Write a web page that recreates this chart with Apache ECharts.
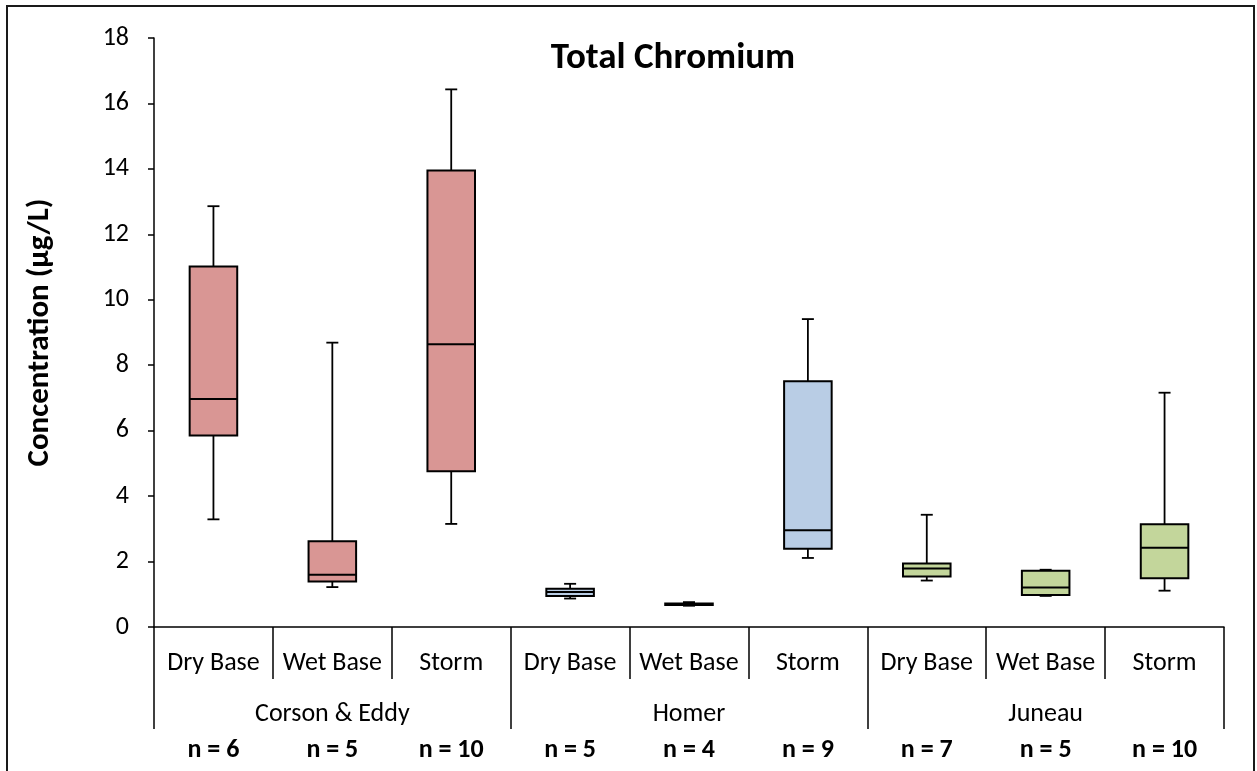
<!DOCTYPE html>
<html>
<head>
<meta charset="utf-8">
<script src="https://cdn.jsdelivr.net/npm/echarts@6/dist/echarts.min.js"></script>
<style>
html,body{margin:0;padding:0;background:#fff;}
#frame{position:absolute;left:6px;top:5px;width:1249px;height:775px;border:2px solid #1a1a1a;box-sizing:border-box;}
#chart{position:absolute;left:0;top:0;width:1257px;height:771px;}
</style>
</head>
<body>
<div id="frame"></div>
<div id="chart"></div>
<script>
var categories = ['Dry Base','Wet Base','Storm','Dry Base','Wet Base','Storm','Dry Base','Wet Base','Storm'];
var groups = ['Corson & Eddy','Homer','Juneau'];
var nLabels = ['n = 6','n = 5','n = 10','n = 5','n = 4','n = 9','n = 7','n = 5','n = 10'];
var groupColors = ['#D99694','#B9CDE5','#C3D69B'];
// [min, Q1, median, Q3, max]
var mins    = [3.29, 1.22, 3.15, 0.87, 0.65, 2.11, 1.42, 0.95, 1.11];
var q1s     = [5.85, 1.39, 4.76, 0.95, 0.67, 2.39, 1.54, 0.98, 1.49];
var medians = [6.97, 1.60, 8.64, 1.07, 0.70, 2.96, 1.79, 1.21, 2.42];
var q3s     = [11.02, 2.62, 13.95, 1.17, 0.72, 7.51, 1.94, 1.72, 3.14];
var maxs    = [12.86, 8.69, 16.43, 1.32, 0.76, 9.41, 3.43, 1.75, 7.16];
var yTicks = [0,2,4,6,8,10,12,14,16,18];

var FONT = 'Carlito, Calibri, Lato, sans-serif';
var data = categories.map(function(c,i){ return [i, mins[i], q1s[i], medians[i], q3s[i], maxs[i]]; });

var chart = echarts.init(document.getElementById('chart'), null, {renderer:'canvas'});
chart.setOption({
  animation:false,
  backgroundColor:'transparent',
  title:{text:'Total Chromium', left:673, top:40, padding:0, textAlign:'center',
    textStyle:{fontFamily:FONT, fontSize:37, fontWeight:'bold', color:'#000'}},
  grid:{left:154, right:33, top:38, bottom:144, containLabel:false},
  xAxis:[
    {type:'category', data:categories, position:'bottom', offset:0,
     axisLine:{show:true, lineStyle:{color:'#000', width:1.5}},
     axisTick:{show:true, length:52, interval:0, lineStyle:{color:'#000', width:1.5}},
     axisLabel:{interval:0, margin:23, fontFamily:FONT, fontSize:26, color:'#000'},
     splitLine:{show:false}},
    {type:'category', data:groups, position:'bottom', offset:0, gridIndex:0,
     axisLine:{show:false},
     axisTick:{show:true, length:102, interval:0, lineStyle:{color:'#000', width:1.5}},
     axisLabel:{interval:0, margin:74, fontFamily:FONT, fontSize:26, color:'#000'},
     splitLine:{show:false}},
    {type:'category', data:nLabels, position:'bottom', offset:0, gridIndex:0,
     axisLine:{show:false}, axisTick:{show:false},
     axisLabel:{interval:0, margin:110, fontFamily:FONT, fontSize:26, fontWeight:'bold', color:'#000'},
     splitLine:{show:false}}
  ],
  yAxis:{type:'value', min:yTicks[0], max:yTicks[yTicks.length-1], interval:2,
    name:'Concentration (µg/L)', nameLocation:'middle', nameGap:98, nameRotate:90,
    nameTextStyle:{fontFamily:FONT, fontSize:31, fontWeight:'bold', color:'#000'},
    axisLine:{show:true, lineStyle:{color:'#000', width:1.5}},
    axisTick:{show:true, length:6, lineStyle:{color:'#000', width:1.5}},
    axisLabel:{margin:25, fontFamily:FONT, fontSize:26, color:'#000'},
    splitLine:{show:false}},
  series:[{
    type:'custom', xAxisIndex:0, yAxisIndex:0,
    data:data,
    encode:{x:0, y:[1,2,3,4,5]},
    renderItem:function(params, api){
      var i = api.value(0);
      var pMin = api.coord([i, api.value(1)]);
      var pQ1 = api.coord([i, api.value(2)]);
      var pMed = api.coord([i, api.value(3)]);
      var pQ3 = api.coord([i, api.value(4)]);
      var pMax = api.coord([i, api.value(5)]);
      var band = api.size([1,0])[0];
      var bw = band*0.40, cw = 12, x = pMin[0];
      var fill = groupColors[Math.floor(i/3)];
      var ls = {stroke:'#000', lineWidth:1.8};
      return {type:'group', children:[
        {type:'line', shape:{x1:x,y1:pQ3[1],x2:x,y2:pMax[1]}, style:ls},
        {type:'line', shape:{x1:x-cw/2,y1:pMax[1],x2:x+cw/2,y2:pMax[1]}, style:ls},
        {type:'line', shape:{x1:x,y1:pQ1[1],x2:x,y2:pMin[1]}, style:ls},
        {type:'line', shape:{x1:x-cw/2,y1:pMin[1],x2:x+cw/2,y2:pMin[1]}, style:ls},
        {type:'rect', shape:{x:x-bw/2,y:pQ3[1],width:bw,height:pQ1[1]-pQ3[1]},
          style:{fill:fill, stroke:'#000', lineWidth:2}},
        {type:'line', shape:{x1:x-bw/2,y1:pMed[1],x2:x+bw/2,y2:pMed[1]}, style:{stroke:'#000', lineWidth:2}}
      ]};
    }
  }]
});
</script>
</body>
</html>
